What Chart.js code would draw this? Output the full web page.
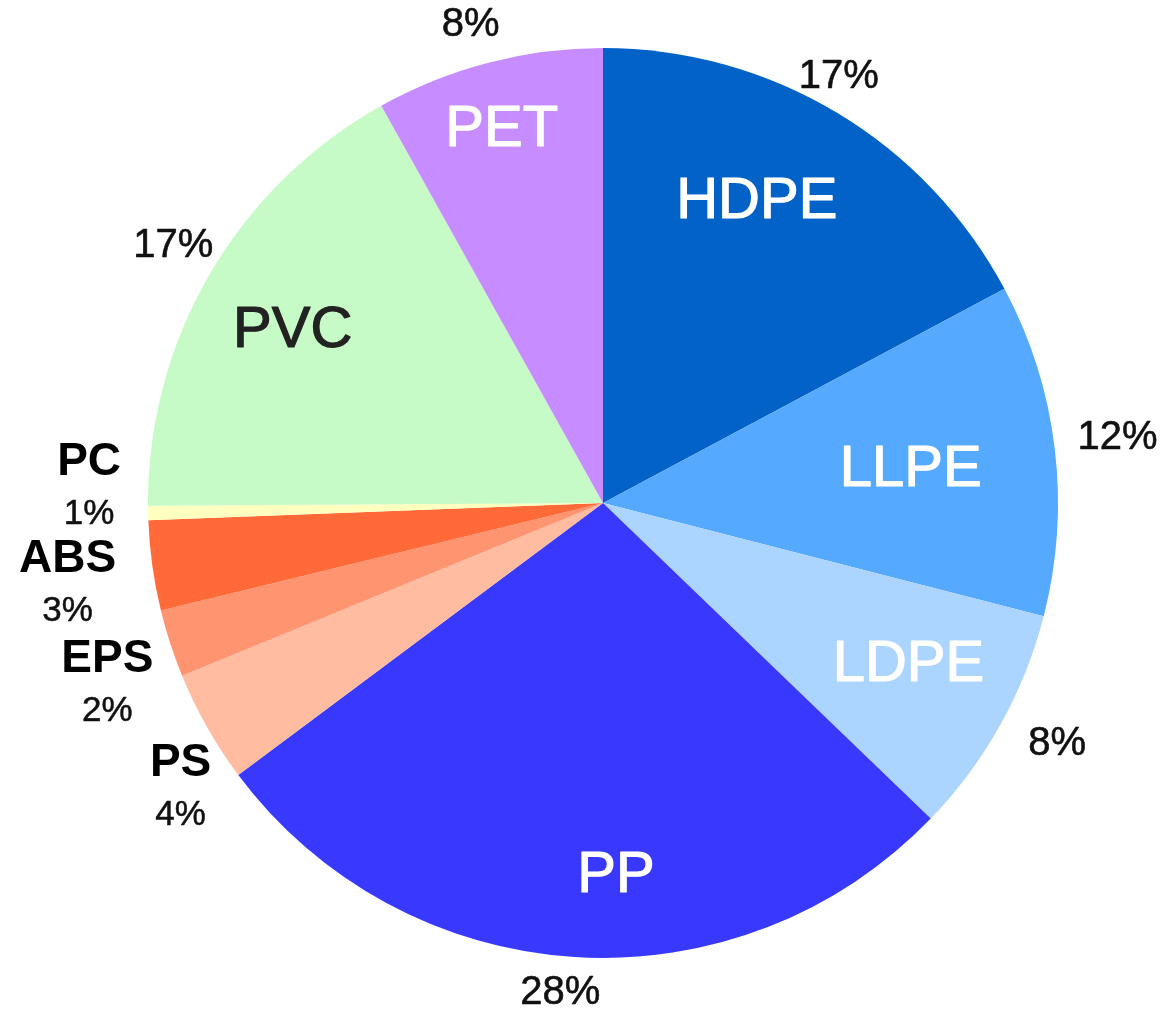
<!DOCTYPE html>
<html>
<head>
<meta charset="utf-8">
<script src="https://cdn.jsdelivr.net/npm/chart.js@4/dist/chart.umd.min.js"></script>
<style>
  html, body { margin: 0; padding: 0; background: #ffffff; }
  #wrap { width: 1167px; height: 1010px; position: relative; }
</style>
</head>
<body>
<div id="wrap"><canvas id="c" width="1167" height="1010"></canvas></div>
<script>
// ---- data ----
const categories = ['HDPE', 'LLPE', 'LDPE', 'PP', 'PS', 'EPS', 'ABS', 'PC', 'PVC', 'PET'];
const shares = [17.2, 11.8, 8.2, 27.6, 4.0, 2.4, 3.2, 0.5, 17.0, 8.1];
const percentLabels = ['17%', '12%', '8%', '28%', '4%', '2%', '3%', '1%', '17%', '8%'];

// ---- style ----
const colors = ['#0262C8', '#55A9FF', '#ABD4FF', '#3838FF', '#FFBCA1', '#FF9471', '#FF6A38', '#FFFFC0', '#C6FAC6', '#C78CFF'];
// inside-label style per slice: null = label outside (small slices)
const insideStyle = [
  { r: 0.743, da: -3.9, color: '#ffffff' },
  { r: 0.68, da: 0.7, color: '#ffffff' },
  { r: 0.76, da: -1.2, color: '#ffffff' },
  { r: 0.82, da: -5.6, color: '#ffffff' },
  null, null, null, null,
  { r: 0.78, da: -1.2, color: '#222222' },
  { r: 0.85, da: -0.6, color: '#ffffff' }
];
const pctStyle = [
  { r: 1.07, da: -2 }, { r: 1.14, da: -0.4 }, { r: 1.13, da: -1.2 }, { r: 1.08, da: 1.4 },
  null, null, null, null,
  { r: 1.10, da: 0.6 }, { r: 1.09, da: -0.9 }
];
const stackStyle = [
  null, null, null, null,
  { r: 1.12, da: -4.5 }, { r: 1.16, da: -2.1 }, { r: 1.19, da: -0.7 }, { r: 1.13, da: 3.0 },
  null, null
];

const labelPlugin = {
  id: 'sliceLabels',
  afterDatasetsDraw(chart) {
    const ctx = chart.ctx;
    const meta = chart.getDatasetMeta(0);
    ctx.save();
    ctx.textAlign = 'center';
    ctx.textBaseline = 'middle';
    ctx.lineJoin = 'round';
    const txt = (s, x, y, font, color, lw) => {
      ctx.font = font;
      ctx.fillStyle = color;
      ctx.fillText(s, x, y);
      if (lw) { ctx.strokeStyle = color; ctx.lineWidth = lw; ctx.strokeText(s, x, y); }
    };
    meta.data.forEach((arc, i) => {
      const p = arc.getProps(['x', 'y', 'startAngle', 'endAngle', 'outerRadius'], true);
      const mid = (p.startAngle + p.endAngle) / 2;
      const at = (s) => {
        const a = mid + s.da * Math.PI / 180;
        return { x: p.x + Math.cos(a) * p.outerRadius * s.r, y: p.y + Math.sin(a) * p.outerRadius * s.r };
      };
      if (insideStyle[i]) {
        const q = at(insideStyle[i]);
        txt(categories[i], q.x, q.y, '58px "Liberation Sans", Arial, sans-serif', insideStyle[i].color, 1.2);
      }
      if (pctStyle[i]) {
        const q = at(pctStyle[i]);
        txt(percentLabels[i], q.x, q.y, '40px "Liberation Sans", Arial, sans-serif', '#111111', 0.6);
      }
      if (stackStyle[i]) {
        const q = at(stackStyle[i]);
        txt(categories[i], q.x, q.y - 25, 'bold 46px "Liberation Sans", Arial, sans-serif', '#000000', 0);
        txt(percentLabels[i], q.x, q.y + 27, '35px "Liberation Sans", Arial, sans-serif', '#111111', 0.5);
      }
    });
    ctx.restore();
  }
};

new Chart(document.getElementById('c'), {
  type: 'pie',
  data: {
    labels: categories,
    datasets: [{
      data: shares,
      backgroundColor: colors,
      borderWidth: 0
    }]
  },
  options: {
    responsive: false,
    animation: false,
    layout: { padding: { left: 148, right: 109, top: 48, bottom: 52 } },
    plugins: {
      legend: { display: false },
      tooltip: { enabled: false }
    }
  },
  plugins: [labelPlugin]
});
</script>
</body>
</html>
